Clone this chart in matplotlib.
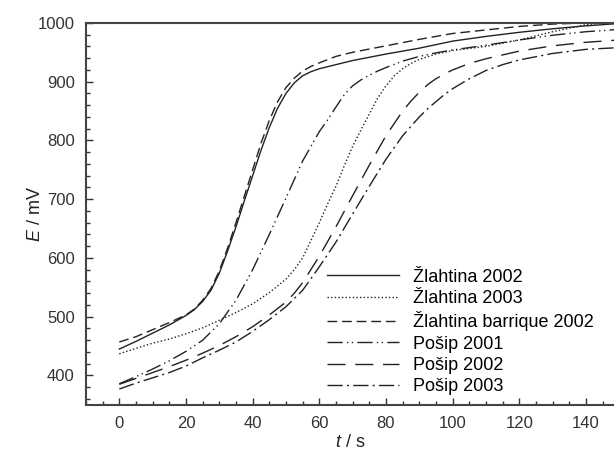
import numpy as np
import matplotlib
matplotlib.use("Agg")
import matplotlib.pyplot as plt
from matplotlib.ticker import MultipleLocator

plt.rcParams["font.family"] = ["Liberation Sans", "DejaVu Sans"]
plt.rcParams["mathtext.fontset"] = "custom"
plt.rcParams["mathtext.it"] = "Liberation Sans:italic"

# tiempos (s) y potencial E (mV)
t_zl = [0, 5, 10, 15, 20, 22.5, 25, 27.5, 30, 32.5, 35, 37.5, 40, 42.5, 45, 47.5,
        50, 52.5, 55, 57.5, 60, 65, 70, 80, 90, 100, 110, 120, 130, 140, 150]
zl_2002 = [445, 458, 472, 486, 502, 512, 526, 545, 574, 612, 653, 697, 740, 783, 822, 855,
           880, 898, 910, 917, 922, 929, 936, 947, 957, 969, 977, 984, 990, 995, 999]
zl_barr = [457, 466, 478, 490, 503, 513, 528, 548, 578, 617, 660, 705, 750, 795, 834, 866,
           890, 906, 918, 926, 932, 943, 950, 961, 972, 982, 988, 994, 998, 1000, 1000]

t_zl03 = [0, 5, 10, 15, 20, 25, 30, 35, 40, 45, 50, 52.5, 55, 57.5, 60, 62.5, 65, 67.5,
          70, 72.5, 75, 77.5, 80, 82.5, 85, 87.5, 90, 95, 100, 110, 120, 130, 140, 145, 150]
zl_2003 = [437, 446, 455, 462, 471, 481, 494, 507, 522, 541, 564, 580, 600, 630, 660, 692, 722, 757,
           790, 818, 845, 872, 893, 910, 922, 931, 938, 947, 953, 960, 971, 985, 997, 1000, 1000]

t_po01 = [0, 5, 10, 15, 20, 25, 30, 35, 40, 45, 50, 55, 60, 62.5, 65, 67.5, 70, 72.5,
          75, 77.5, 80, 85, 90, 95, 100, 110, 120, 130, 140, 150]
po_2001 = [386, 398, 411, 425, 441, 460, 488, 528, 580, 640, 702, 765, 815, 835, 857, 878, 893, 903,
           911, 918, 924, 935, 943, 949, 954, 962, 971, 979, 985, 989]

t_po02 = [0, 5, 10, 15, 20, 25, 30, 35, 40, 45, 50, 52.5, 55, 60, 65, 70, 75, 80, 85,
          87.5, 90, 92.5, 95, 97.5, 100, 105, 110, 120, 130, 140, 150]
po_2002 = [385, 395, 405, 415, 426, 438, 451, 466, 483, 503, 525, 540, 558, 603, 653, 706, 758, 808, 850,
           867, 882, 895, 905, 913, 920, 931, 939, 952, 961, 967, 971]

t_po03 = [0, 5, 10, 15, 20, 25, 30, 35, 40, 45, 50, 55, 60, 65, 70, 75, 80, 85, 90,
          92.5, 95, 97.5, 100, 105, 110, 115, 120, 130, 140, 150]
po_2003 = [377, 387, 396, 405, 416, 430, 443, 457, 475, 495, 517, 545, 585, 627, 675, 722, 768, 808, 840,
           854, 866, 878, 888, 905, 919, 929, 937, 948, 955, 958]

labels = ["Žlahtina 2002", "Žlahtina 2003", "Žlahtina barrique 2002",
          "Pošip 2001", "Pošip 2002", "Pošip 2003"]

series = [(t_zl, zl_2002), (t_zl03, zl_2003), (t_zl, zl_barr),
          (t_po01, po_2001), (t_po02, po_2002), (t_po03, po_2003)]
styles = ["-", (0, (1, 1.6)), (0, (7, 3.5)), (0, (11, 3, 1, 2.5, 1, 3)),
          (0, (13, 7)), (0, (11, 3, 1.5, 3))]

fig = plt.figure(figsize=(6.14, 4.58), dpi=100)
ax = fig.add_axes([0.140, 0.116, 0.86, 0.834])

for (x, y), ls, lab in zip(series, styles, labels):
    ax.plot(x, y, linestyle=ls, color="#222222", linewidth=1.0, label=lab)

ax.set_xlim(-10, 148.4)
ax.set_ylim(350, 1000)
ax.xaxis.set_major_locator(MultipleLocator(20))
ax.xaxis.set_minor_locator(MultipleLocator(5))
ax.yaxis.set_major_locator(MultipleLocator(100))
ax.yaxis.set_minor_locator(MultipleLocator(20))
ax.tick_params(which="both", direction="in", colors="#333333", labelsize=12,
               width=1.0, top=False, right=False)
ax.tick_params(which="major", length=5, pad=8)
ax.tick_params(which="minor", length=3)
for s in ["left", "bottom", "top"]:
    ax.spines[s].set_linewidth(1.5)
    ax.spines[s].set_color("#444444")
ax.spines["right"].set_visible(False)

ax.set_xlabel(r"$t$ / s", fontsize=13, color="#222222", labelpad=2)
ax.set_ylabel(r"$E$ / mV", fontsize=13, color="#222222")
ax.yaxis.set_label_coords(-0.08, 0.5)

ax.legend(loc="upper left", bbox_to_anchor=(0.456, 0.357), frameon=False,
          fontsize=13, handlelength=4.0, handletextpad=0.8, labelspacing=0.24,
          borderpad=0, borderaxespad=0)

plt.savefig("out.png", dpi=100)
